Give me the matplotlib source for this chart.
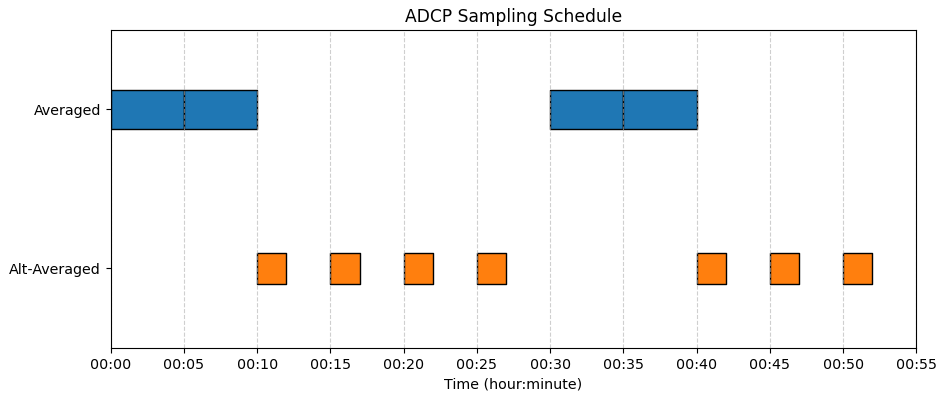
import matplotlib
matplotlib.use('Agg')
from matplotlib import pyplot as plt

# sampling windows in minutes from start: (start, duration)
averaged = [(0, 5), (5, 5), (30, 5), (35, 5)]
alt_averaged = [(10, 2), (15, 2), (20, 2), (25, 2), (40, 2), (45, 2), (50, 2)]
rows = ['Alt-Averaged', 'Averaged']
tick_minutes = list(range(0, 60, 5))
tick_labels = ['00:%02d' % m for m in tick_minutes]

plt.rcParams['font.size'] = 10.3

fig, ax = plt.subplots(figsize=(9.38, 3.94), dpi=100)
fig.subplots_adjust(left=0.118, right=0.977, top=0.924, bottom=0.117)

ax.broken_barh(averaged, (1 - 0.125, 0.25), facecolors='tab:blue',
               edgecolor='black', linewidth=1)
ax.broken_barh(alt_averaged, (0 - 0.1, 0.2), facecolors='tab:orange',
               edgecolor='black', linewidth=1)

ax.set_xlim(0, 55)
ax.set_ylim(-0.5, 1.5)
ax.set_yticks([0, 1])
ax.set_yticklabels(rows)
ax.set_xticks(tick_minutes)
ax.set_xticklabels(tick_labels)
ax.grid(axis='x', linestyle='--', alpha=0.6)
ax.set_xlabel('Time (hour:minute)')
ax.set_title('ADCP Sampling Schedule')

fig.savefig('out.png', dpi=100)
